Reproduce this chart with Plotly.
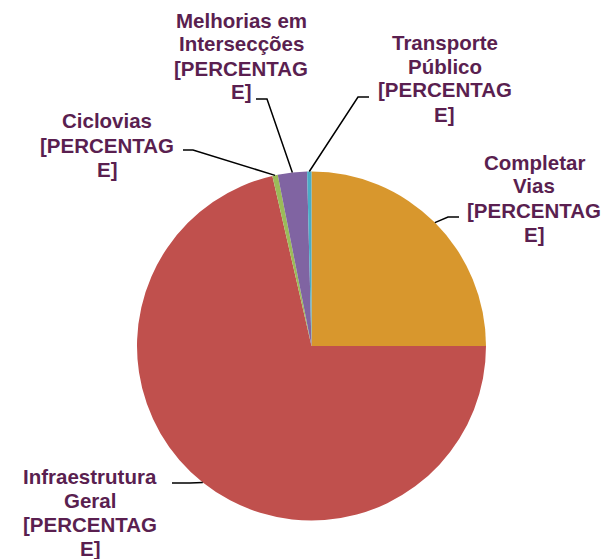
import math
import plotly.graph_objects as go

categories = ["Completar Vias", "Infraestrutura Geral", "Ciclovias",
              "Melhorias em Intersecções", "Transporte Público"]
values = [25.0, 71.4, 0.5, 2.7, 0.4]
colors = ["#D8972D", "#C0504D", "#9BBB59", "#8064A2", "#4BACC6"]
label_lines = [["Completar", "Vias", "[PERCENTAG", "E]"],
               ["Infraestrutura", "Geral", "[PERCENTAG", "E]"],
               ["Ciclovias", "[PERCENTAG", "E]"],
               ["Melhorias em", "Intersecções", "[PERCENTAG", "E]"],
               ["Transporte", "Público", "[PERCENTAG", "E]"]]

W, H = 611, 559
cx, cy, r = 311.5, 346.0, 174.5
LINE_H = 24.0

def px(x):
    return x / W

def py(y):
    return 1 - y / H

# label block centres (pixels) and elbow points of leader lines
label_pos = [(534, 198), (90, 512), (107, 145), (241, 56), (445, 78)]
line_start = [(459, 217), (172, 483), (183, 150), (256, 99), (369, 97)]
line_elbow = [(448, 217), (190, 483), (193, 150), (267, 99), (358, 97)]

fig = go.Figure(go.Pie(
    labels=categories, values=values, sort=False, direction="clockwise",
    rotation=0, textinfo="none", hoverinfo="label+percent",
    marker=dict(colors=colors, line=dict(width=0)),
    domain=dict(x=[px(cx - r), px(cx + r)], y=[py(cy + r), py(cy - r)]),
    showlegend=False,
))

total = sum(values)
cum = 0.0
shapes = []
annotations = []
for i, v in enumerate(values):
    mid = (cum + v / 2) / total * 2 * math.pi
    cum += v
    ex = cx + r * math.sin(mid)
    ey = cy - r * math.cos(mid)
    (sx, sy), (bx, by) = line_start[i], line_elbow[i]
    shapes.append(dict(
        type="path", xref="paper", yref="paper",
        path=f"M {px(sx)},{py(sy)} L {px(bx)},{py(by)} L {px(ex)},{py(ey)}",
        line=dict(color="black", width=1.5),
    ))
    lx, ly = label_pos[i]
    n = len(label_lines[i])
    for j, t in enumerate(label_lines[i]):
        yy = ly + (j - (n - 1) / 2) * LINE_H
        annotations.append(dict(
            x=px(lx), y=py(yy), xref="paper", yref="paper",
            text=t, showarrow=False, align="center",
            xanchor="center", yanchor="middle",
            font=dict(family="Liberation Sans, Arial, sans-serif", size=20.5,
                      color="#5A1F50", weight="bold"),
        ))

fig.update_layout(
    width=W, height=H, margin=dict(l=0, r=0, t=0, b=0),
    paper_bgcolor="white", plot_bgcolor="white",
    shapes=shapes, annotations=annotations,
)

fig.write_html("out.html", config={"displayModeBar": False},
               post_script="document.body.style.margin='0';document.body.style.overflow='hidden';")
